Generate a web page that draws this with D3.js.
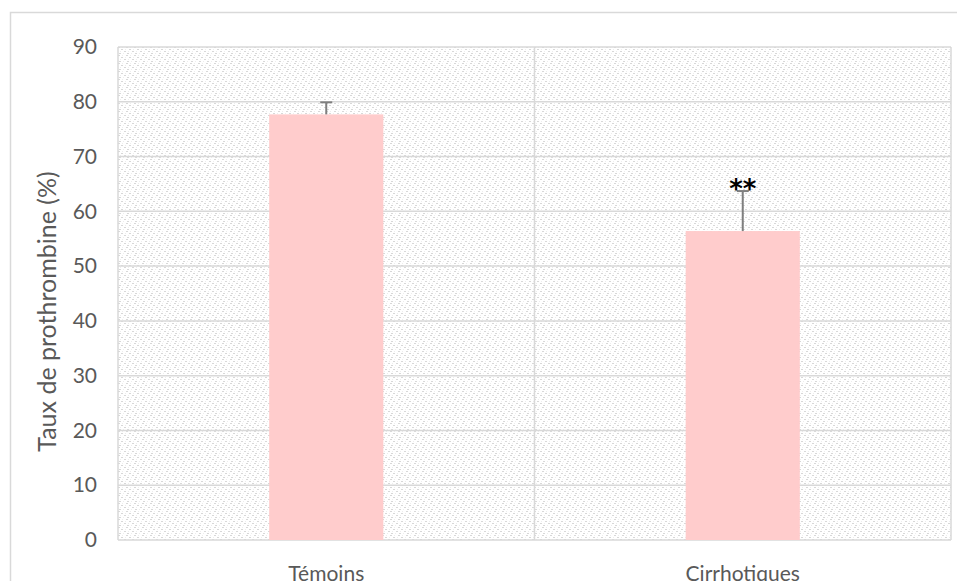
<!DOCTYPE html>
<html>
<head>
<meta charset="utf-8">
<script src="https://cdn.jsdelivr.net/npm/d3@7"></script>
<style>
  html, body { margin: 0; padding: 0; background: #fff; }
  svg { display: block; }
</style>
</head>
<body>
<svg id="chart" width="957" height="581"></svg>
<script>
// Prothrombin rate by group, mean with upper error
const categories = ["Témoins", "Cirrhotiques"];
const means = [77.7, 56.4];
const errors = [2.2, 7.3];
const significance = ["", "**"];
const yTicks = [0, 10, 20, 30, 40, 50, 60, 70, 80, 90];
const yTitle = "Taux de prothrombine (%)";

const svg = d3.select("#chart");
const W = 957, H = 581;
const margin = { left: 118, top: 47, right: 6, bottom: 41 };
const plotW = W - margin.left - margin.right;
const plotH = H - margin.top - margin.bottom;
const grid = "#d9d9d9";
const font = "Lato, 'Open Sans', sans-serif";

// Outer chart frame
svg.append("rect")
  .attr("x", 10.5).attr("y", 12.5)
  .attr("width", W).attr("height", H)
  .attr("fill", "none").attr("stroke", grid).attr("stroke-width", 1.5);

// Light dotted diagonal fill for the plot area
const defs = svg.append("defs");
const pat = defs.append("pattern")
  .attr("id", "dots").attr("patternUnits", "userSpaceOnUse")
  .attr("width", 8).attr("height", 8);
pat.append("rect").attr("width", 8).attr("height", 8).attr("fill", "#ffffff");
[[0, 0], [3, 2], [6, 4], [1, 6]].forEach(([px, py]) => {
  pat.append("rect").attr("x", px).attr("y", py).attr("width", 2).attr("height", 1)
    .attr("fill", "#d8d8d8");
});
[[4, 0], [7, 2], [2, 4], [5, 6]].forEach(([px, py]) => {
  pat.append("rect").attr("x", px).attr("y", py).attr("width", 1).attr("height", 1)
    .attr("fill", "#ededed");
});

const g = svg.append("g").attr("transform", `translate(${margin.left},${margin.top})`);

const x = d3.scaleBand().domain(categories).range([0, plotW]).paddingInner(0.726).paddingOuter(0.363);
const xCat = d3.scaleBand().domain(categories).range([0, plotW]);
const y = d3.scaleLinear().domain([0, 90]).range([plotH, 0]);

g.append("rect").attr("width", plotW).attr("height", plotH).attr("fill", "url(#dots)");

// Horizontal gridlines
g.append("g").selectAll("line").data(yTicks).join("line")
  .attr("x1", 0).attr("x2", plotW)
  .attr("y1", d => y(d)).attr("y2", d => y(d))
  .attr("stroke", grid).attr("stroke-width", 1.5);

// Vertical gridlines at category boundaries
const bounds = [0, ...categories.map(c => xCat(c) + xCat.bandwidth())];
g.append("g").selectAll("line").data(bounds).join("line")
  .attr("x1", d => d).attr("x2", d => d)
  .attr("y1", 0).attr("y2", plotH)
  .attr("stroke", grid).attr("stroke-width", 1.5);

// Y axis tick labels
const yAxis = d3.axisLeft(y).tickValues(yTicks).tickSize(0).tickPadding(21);
const ya = g.append("g").call(yAxis);
ya.select(".domain").remove();
ya.selectAll("text").attr("font-family", font).attr("font-size", 21).attr("fill", "#595959");

// X axis category labels
const xAxis = d3.axisBottom(xCat).tickSize(0).tickPadding(26);
const xa = g.append("g").attr("transform", `translate(0,${plotH})`).call(xAxis);
xa.select(".domain").remove();
xa.selectAll("text").attr("font-family", font).attr("font-size", 21).attr("fill", "#595959");

// Bars
g.append("g").selectAll("rect").data(categories).join("rect")
  .attr("x", d => x(d)).attr("width", x.bandwidth())
  .attr("y", (d, i) => y(means[i])).attr("height", (d, i) => y(0) - y(means[i]))
  .attr("fill", "#ffcccc");

// Error bars
const eb = g.append("g").attr("stroke", "#7f7f7f").attr("stroke-width", 2);
categories.forEach((c, i) => {
  const cx = x(c) + x.bandwidth() / 2;
  eb.append("line").attr("x1", cx).attr("x2", cx)
    .attr("y1", y(means[i])).attr("y2", y(means[i] + errors[i]));
  eb.append("line").attr("x1", cx - 6).attr("x2", cx + 6)
    .attr("y1", y(means[i] + errors[i])).attr("y2", y(means[i] + errors[i]));
});

// Significance marks
g.append("g").selectAll("text").data(categories).join("text")
  .attr("x", d => x(d) + x.bandwidth() / 2)
  .attr("y", (d, i) => y(means[i] + errors[i]) + 7)
  .attr("text-anchor", "middle")
  .attr("font-family", "'DejaVu Sans', sans-serif").attr("font-weight", "bold")
  .attr("font-size", 26).attr("fill", "#000")
  .text((d, i) => significance[i]);

// Y axis title
svg.append("text")
  .attr("transform", `translate(56,${margin.top + plotH / 2 + 18}) rotate(-90)`)
  .attr("text-anchor", "middle")
  .attr("font-family", font).attr("font-size", 25).attr("fill", "#595959")
  .text(yTitle);
</script>
</body>
</html>
